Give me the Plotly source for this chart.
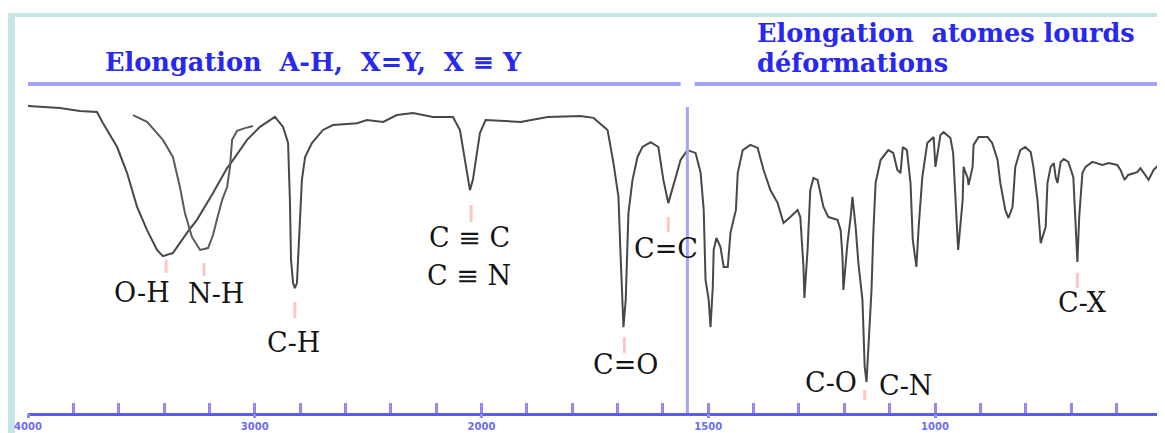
import plotly.graph_objects as go

# ---------------- data ----------------
# main spectrum: wavenumber (cm-1) and transmittance (%)
wavenumber = [4000, 3859, 3771, 3696, 3669, 3607, 3563, 3519, 3475, 3431, 3405, 3361, 3299, 3255,
              3184, 3122, 3096, 3034, 2977, 2911, 2875, 2853, 2845, 2840, 2831, 2823, 2814, 2805,
              2792, 2778, 2748, 2699, 2655, 2549, 2505, 2434, 2373, 2302, 2214, 2126, 2095, 2073,
              2064, 2051, 2038, 2029, 2007, 1991, 1943, 1914, 1854, 1782, 1753, 1722, 1709, 1698,
              1694, 1689, 1687, 1682, 1678, 1676, 1667, 1656, 1645, 1627, 1610, 1599, 1588, 1572,
              1561, 1546, 1533, 1528, 1517, 1510, 1506, 1499, 1495, 1490, 1488, 1482, 1473, 1466,
              1457, 1451, 1446, 1439, 1435, 1424, 1407, 1391, 1378, 1363, 1347, 1334, 1319, 1303,
              1297, 1290, 1288, 1281, 1275, 1268, 1259, 1246, 1235, 1215, 1208, 1204, 1202, 1193,
              1186, 1182, 1175, 1169, 1160, 1155, 1151, 1146, 1140, 1136, 1131, 1120, 1103, 1092,
              1083, 1076, 1071, 1062, 1054, 1049, 1041, 1036, 1028, 1017, 1003, 999, 988, 981,
              966, 960, 953, 949, 939, 937, 928, 926, 917, 915, 904, 884, 874, 862, 856, 845, 838,
              829, 823, 812, 801, 789, 783, 774, 767, 756, 752, 745, 738, 734, 730, 723, 716, 706,
              695, 691, 686, 682, 675, 668, 653, 631, 617, 598, 591, 582, 574, 554, 547, 529, 518,
              507, 496]
transmittance = [99.0, 98.4, 97.4, 97.1, 93.5, 85.8, 77.4, 66.5, 59.0, 52.6, 50.6, 51.6, 58.1, 62.3,
                 71.0, 79.0, 81.6, 88.1, 92.3, 95.5, 92.3, 87.1, 68.7, 49.4, 41.9, 40.3, 41.9, 55.8,
                 75.2, 82.6, 87.1, 91.3, 92.9, 93.5, 94.5, 93.9, 96.1, 96.8, 95.5, 95.5, 91.3, 81.6,
                 77.4, 71.9, 75.2, 79.4, 90.3, 94.5, 94.2, 93.9, 95.5, 95.8, 95.2, 91.3, 80.6, 69.7,
                 53.5, 36.5, 27.7, 36.5, 51.6, 64.5, 75.2, 82.6, 85.8, 87.4, 85.8, 75.2, 67.7, 76.1,
                 81.6, 84.8, 84.2, 83.9, 77.7, 65.5, 42.9, 36.5, 27.7, 40.6, 52.6, 56.5, 53.5, 47.1,
                 47.1, 58.1, 61.3, 65.5, 77.4, 84.8, 86.5, 85.5, 78.4, 71.9, 67.7, 61.3, 63.2, 65.5,
                 63.2, 47.1, 37.1, 52.6, 71.9, 75.8, 75.2, 66.5, 63.2, 62.3, 59.0, 50.3, 39.7, 54.8,
                 63.2, 69.7, 60.0, 48.4, 36.5, 14.8, 10.0, 25.8, 39.7, 58.1, 74.2, 81.6, 84.8, 83.9,
                 78.4, 77.4, 85.8, 84.8, 74.2, 55.8, 47.1, 60.0, 76.1, 87.1, 89.0, 79.4, 89.7, 90.6,
                 88.7, 83.9, 63.2, 52.6, 68.7, 79.4, 75.8, 73.5, 79.4, 86.5, 89.0, 89.0, 87.1, 81.6,
                 74.2, 65.5, 62.9, 66.5, 79.4, 84.8, 85.8, 84.2, 79.4, 68.7, 54.8, 60.0, 74.2, 79.4,
                 80.6, 76.1, 74.2, 81.0, 81.9, 81.0, 76.1, 64.5, 48.7, 63.2, 77.4, 79.4, 81.0, 80.0,
                 80.6, 80.0, 78.4, 75.2, 76.8, 77.7, 79.0, 75.2, 78.4, 80.0, 80.0]

# overlaid N-H band
nh_wavenumber = [3537, 3475, 3405, 3361, 3330, 3308, 3277, 3241, 3206, 3184, 3167, 3144, 3122,
                 3109, 3100, 3078, 3043, 3008]
nh_transmittance = [96.1, 93.9, 88.1, 82.6, 72.9, 64.5, 56.8, 52.6, 53.2, 57.4, 62.3, 68.7, 72.9,
                    79.4, 88.1, 91.0, 91.9, 92.6]

# axis ticks
tick_wavenumbers = list(range(4000, 1999, -200)) + list(range(1900, 499, -100))
major_wavenumbers = [4000, 3000, 2000, 1500, 1000, 500]
major_labels = ["4000", "3000", "2000", "1500", "1000", ""]

# band labels
band_labels = ["O-H", "N-H", "C-H", "C ≡ C", "C ≡ N", "C=O", "C=C", "C-O", "C-N", "C-X"]
band_label_wn = [3497, 3171, 2831, 2055, 2055, 1682, 1594, 1230, 1065, 675]
band_label_t = [39.0, 38.7, 22.6, 56.5, 44.5, 15.8, 53.2, 9.7, 9.0, 35.5]

# pink band markers
marker_wn = [3391, 3224, 2823, 2046, 1685, 1588, 1155, 686]
marker_top = [49.4, 48.4, 35.8, 67.1, 24.5, 63.2, 7.4, 45.2]
marker_bottom = [45.2, 44.2, 30.6, 61.6, 19.4, 58.4, 4.2, 40.3]

# region separators / headers
separator_wn = 1546
separator_top = 98.7
header_t = 106.1
left_region = [4000, 1561]
right_region = [1530, 500]
header_left = "Elongation\u00a0\u00a0A-H,\u00a0\u00a0X=Y,\u00a0\u00a0X\u00a0≡\u00a0Y"
header_right_1 = "Elongation\u00a0\u00a0atomes lourds"
header_right_2 = "déformations"


# piecewise IR abscissa: 4000-2000 compressed by a factor 2
def u(w):
    return (4000 - w) / 2 if w >= 2000 else 1000 + (2000 - w)


W, H = 1165, 433
PAGE = 8                 # default page margin of the html body
PX_PER_U = 0.4535        # horizontal scale
PX_PER_T = 3.1           # vertical scale
X0 = 28 - PAGE           # pixel of 4000 cm-1 inside the figure
AXIS_Y = 413 - PAGE      # pixel of the axis line inside the figure
X_RANGE = [0, (W - X0) / PX_PER_U]
Y_RANGE = [0, AXIS_Y / PX_PER_T]


def px(x):
    return (x - PAGE) / W


def py(y):
    return 1 - (y - PAGE) / H


fig = go.Figure()

fig.add_trace(go.Scatter(x=[u(w) for w in wavenumber], y=transmittance, mode="lines",
                         line=dict(color="#484848", width=2), hoverinfo="skip", showlegend=False))
fig.add_trace(go.Scatter(x=[u(w) for w in nh_wavenumber], y=nh_transmittance, mode="lines",
                         line=dict(color="#5a5a5a", width=2), hoverinfo="skip", showlegend=False))

mx, my = [], []
for w, t0, t1 in zip(marker_wn, marker_top, marker_bottom):
    mx += [u(w), u(w), None]
    my += [t0, t1, None]
fig.add_trace(go.Scatter(x=mx, y=my, mode="lines", line=dict(color="#ffc4c4", width=3),
                         hoverinfo="skip", showlegend=False))

# invisible trace for the label axis
fig.add_trace(go.Scatter(x=[u(4000)], y=[0], xaxis="x2", mode="markers",
                         marker=dict(opacity=0), hoverinfo="skip", showlegend=False))

for txt, w, t in zip(band_labels, band_label_wn, band_label_t):
    fig.add_annotation(x=u(w), y=t, text=txt, showarrow=False, xanchor="center", yanchor="middle",
                       font=dict(family="DejaVu Serif", size=27, color="#141414"))

# separators and header lines
fig.add_shape(type="line", xref="x", yref="y", x0=u(separator_wn), x1=u(separator_wn),
              y0=0, y1=separator_top, line=dict(color="#a4a4f8", width=3))
for a, b in (left_region, right_region):
    fig.add_shape(type="line", xref="x", yref="y", x0=u(a), x1=u(b), y0=header_t, y1=header_t,
                  line=dict(color="#a4a4f4", width=4))

# teal frame
fig.add_shape(type="rect", xref="paper", yref="paper", x0=px(8), x1=px(15), y0=py(441), y1=py(13),
              line=dict(width=0), fillcolor="#c6e6e6", layer="below")
fig.add_shape(type="rect", xref="paper", yref="paper", x0=px(8), x1=px(1173), y0=py(17), y1=py(13),
              line=dict(width=0), fillcolor="#c6e6e6", layer="below")

hfont = dict(family="DejaVu Serif", size=25.6, color="#2828ee")
fig.add_annotation(xref="paper", yref="paper", x=px(313), y=py(62), text=f"<b>{header_left}</b>",
                   showarrow=False, xanchor="center", yanchor="middle", font=hfont)
fig.add_annotation(xref="paper", yref="paper", x=px(755), y=py(33), text=f"<b>{header_right_1}</b>",
                   showarrow=False, xanchor="left", yanchor="middle", font=hfont)
fig.add_annotation(xref="paper", yref="paper", x=px(755), y=py(63), text=f"<b>{header_right_2}</b>",
                   showarrow=False, xanchor="left", yanchor="middle", font=hfont)

x_dom = [X0 / W, 1]
fig.update_layout(
    width=W, height=H, margin=dict(l=0, r=0, t=0, b=0, autoexpand=False),
    paper_bgcolor="white", plot_bgcolor="white", showlegend=False,
    xaxis=dict(domain=x_dom, range=X_RANGE, tickmode="array", automargin=False,
               tickvals=[u(w) for w in tick_wavenumbers], ticks="inside", ticklen=10, tickwidth=3,
               tickcolor="#8c8cf4", showticklabels=False, showline=True, linecolor="#5c5cf0",
               linewidth=3, showgrid=False, zeroline=False, fixedrange=True),
    xaxis2=dict(domain=x_dom, range=X_RANGE, overlaying="x", anchor="y", side="bottom",
                automargin=False, tickmode="array", tickvals=[u(w) for w in major_wavenumbers],
                ticktext=major_labels, ticks="outside", ticklen=4, tickwidth=3,
                tickcolor="#8c8cf4", showline=False, showgrid=False, zeroline=False,
                fixedrange=True,
                tickfont=dict(family="DejaVu Sans", size=10, color="#6c6cf0", weight="bold")),
    yaxis=dict(domain=[(H - AXIS_Y) / H, 1], range=Y_RANGE, visible=False, fixedrange=True,
               automargin=False),
)

fig.write_html("out.html")
